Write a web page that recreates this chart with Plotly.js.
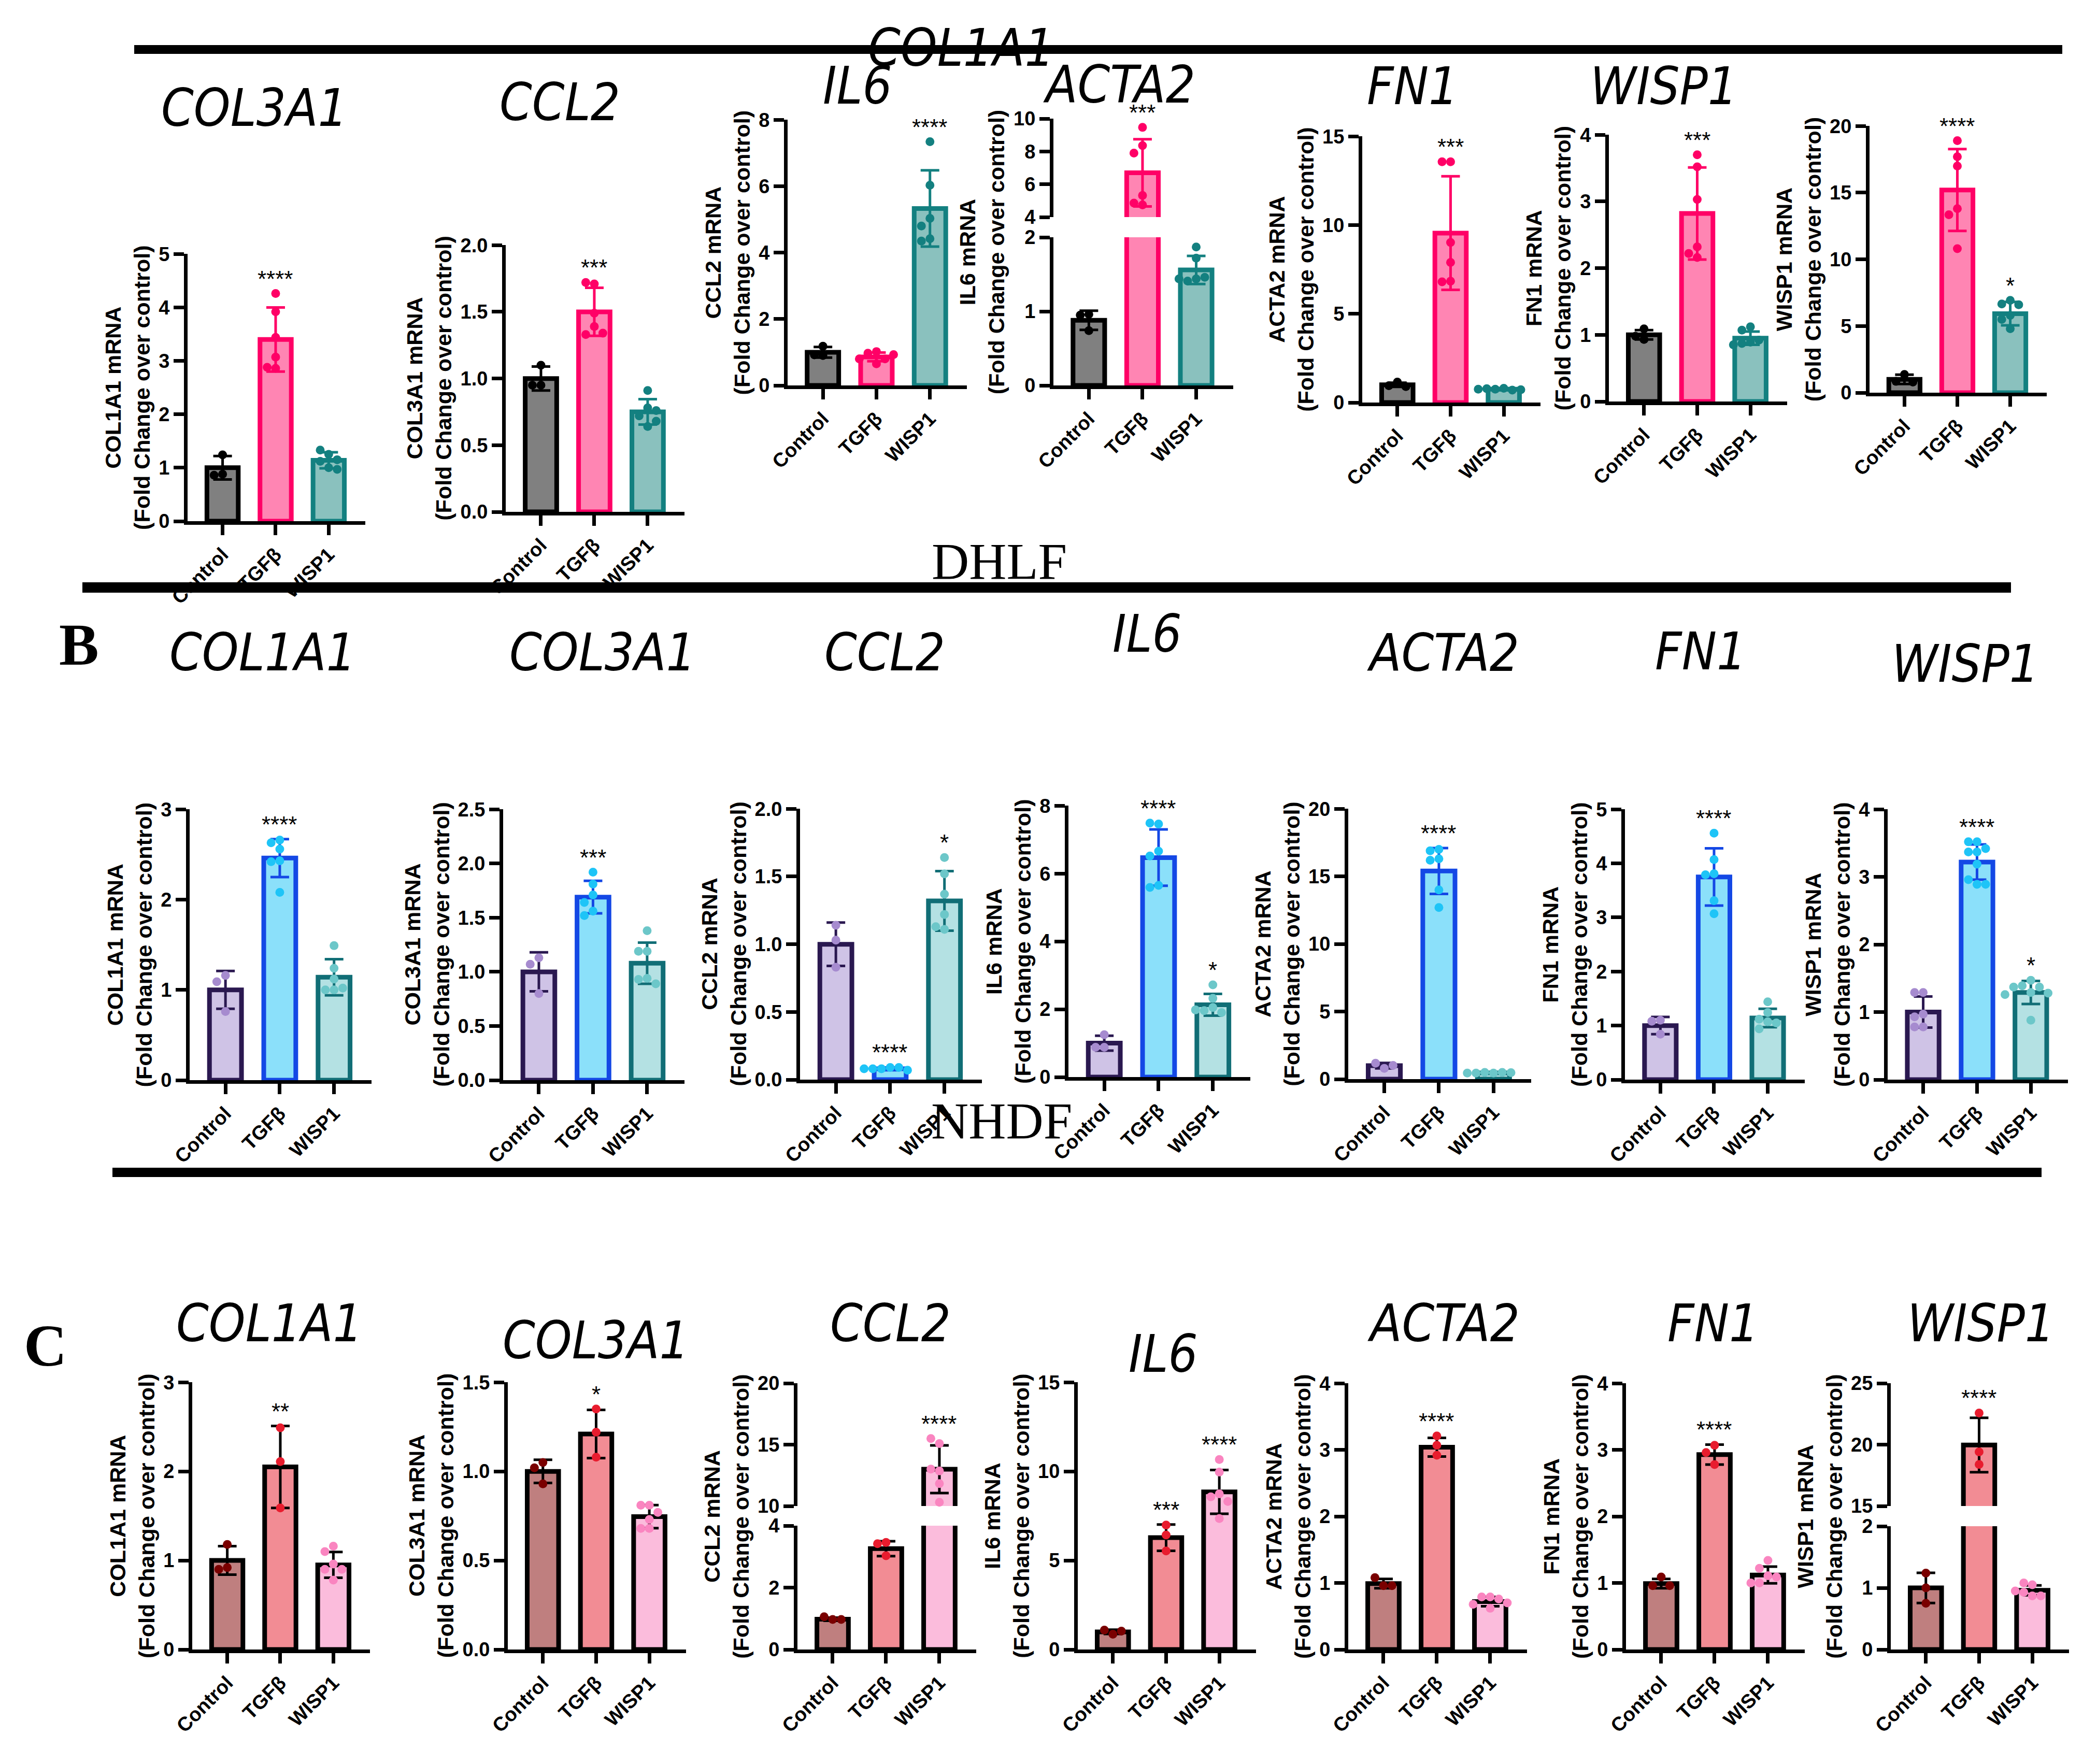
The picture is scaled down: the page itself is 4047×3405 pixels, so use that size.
<!DOCTYPE html>
<html><head><meta charset="utf-8">
<script src="https://cdn.plot.ly/plotly-3.0.1.min.js"></script>
<style>html,body{margin:0;padding:0;background:#fff}</style>
</head><body><div id="chart" style="width:4047px;height:3405px"></div>
<script>
// ---------------- DATA ----------------
const groups = ["Control", "TGFβ", "WISP1"];

// Row A (DHLF)
const A_COL1A1_mean = [1.0, 3.40, 1.14];
const A_COL1A1_sd = [0.22, 0.60, 0.15];
const A_COL1A1_pts = [[1.24, 0.88, 0.86], [4.26, 3.92, 3.44, 3.07, 2.86, 2.88], [1.25, 1.33, 1.12, 1.15, 1.00, 0.97]];
const A_COL1A1_sig = ["", "****", ""];

const A_COL3A1_mean = [1.0, 1.50, 0.75];
const A_COL3A1_sd = [0.09, 0.18, 0.095];
const A_COL3A1_pts = [[1.10, 0.95, 0.95], [1.71, 1.72, 1.49, 1.39, 1.33, 1.34], [0.91, 0.78, 0.72, 0.76, 0.64, 0.68]];
const A_COL3A1_sig = ["", "***", ""];

const A_CCL2_mean = [1.0, 0.86, 5.33];
const A_CCL2_sd = [0.16, 0.13, 1.15];
const A_CCL2_pts = [[1.18, 0.90, 0.92], [1.02, 0.97, 0.80, 0.65, 0.80, 0.93], [7.34, 6.03, 5.03, 4.80, 4.42, 4.35]];
const A_CCL2_sig = ["", "", "****"];

const A_IL6_mean = [0.88, 6.70, 1.56];
const A_IL6_sd = [0.13, 2.05, 0.19];
const A_IL6_pts = [[0.96, 0.95, 0.74], [9.47, 8.36, 7.90, 5.32, 4.74, 4.85], [1.87, 1.72, 1.44, 1.41, 1.46, 1.44]];
const A_IL6_sig = ["", "***", ""];

const A_ACTA2_mean = [1.0, 9.55, 0.75];
const A_ACTA2_sd = [0.12, 3.2, 0.06];
const A_ACTA2_pts = [[1.15, 0.95, 0.90], [13.57, 13.57, 9.02, 7.90, 6.84, 6.80], [0.80, 0.75, 0.70, 0.78, 0.72, 0.75]];
const A_ACTA2_sig = ["", "***", ""];

const A_FN1_mean = [1.0, 2.82, 0.95];
const A_FN1_sd = [0.07, 0.69, 0.10];
const A_FN1_pts = [[1.09, 0.93, 0.98], [3.70, 3.52, 3.03, 2.32, 2.22, 2.16], [1.12, 1.07, 0.89, 0.87, 0.92, 0.85]];
const A_FN1_sig = ["", "***", ""];

const A_WISP1_mean = [1.0, 15.2, 5.93];
const A_WISP1_sd = [0.35, 3.07, 0.88];
const A_WISP1_pts = [[1.37, 0.85, 0.80], [18.9, 17.7, 17.0, 13.8, 13.35, 10.8], [6.93, 6.65, 6.60, 5.80, 5.50, 4.80]];
const A_WISP1_sig = ["", "****", "*"];

// Row B
const B_COL1A1_mean = [1.0, 2.46, 1.14];
const B_COL1A1_sd = [0.21, 0.21, 0.20];
const B_COL1A1_pts = [[1.16, 1.09, 0.76], [2.66, 2.63, 2.56, 2.43, 2.42, 2.08], [1.49, 1.24, 1.12, 1.00, 1.00, 1.02]];
const B_COL1A1_sig = ["", "****", ""];

const B_COL3A1_mean = [1.0, 1.69, 1.08];
const B_COL3A1_sd = [0.18, 0.15, 0.19];
const B_COL3A1_pts = [[1.13, 1.07, 0.80], [1.92, 1.81, 1.71, 1.64, 1.56, 1.52], [1.38, 1.19, 1.19, 0.94, 0.93, 0.89]];
const B_COL3A1_sig = ["", "***", ""];

const B_CCL2_mean = [1.0, 0.08, 1.32];
const B_CCL2_sd = [0.16, 0.01, 0.22];
const B_CCL2_pts = [[1.14, 1.03, 0.83], [0.09, 0.08, 0.09, 0.08, 0.07, 0.08], [1.64, 1.52, 1.37, 1.22, 1.11, 1.13]];
const B_CCL2_sig = ["", "****", "*"];

const B_IL6_mean = [1.0, 6.47, 2.13];
const B_IL6_sd = [0.22, 0.83, 0.32];
const B_IL6_pts = [[1.25, 0.88, 0.88], [7.46, 7.49, 6.66, 6.52, 5.65, 5.59], [2.72, 2.32, 2.05, 1.96, 1.90, 1.98]];
const B_IL6_sig = ["", "****", "*"];

const B_ACTA2_mean = [1.0, 15.4, 0.46];
const B_ACTA2_sd = [0.2, 1.7, 0.03];
const B_ACTA2_pts = [[0.80, 1.18, 1.02], [16.3, 16.9, 17.0, 16.2, 14.0, 12.7], [0.45, 0.50, 0.50, 0.45, 0.48, 0.45]];
const B_ACTA2_sig = ["", "****", ""];

const B_FN1_mean = [1.0, 3.75, 1.14];
const B_FN1_sd = [0.16, 0.53, 0.17];
const B_FN1_pts = [[1.10, 1.08, 0.84], [4.56, 4.07, 3.81, 3.79, 3.31, 3.07], [1.44, 1.24, 1.12, 1.07, 0.94, 1.05]];
const B_FN1_sig = ["", "****", ""];

const B_WISP1_mean = [1.0, 3.22, 1.29];
const B_WISP1_sd = [0.23, 0.26, 0.17];
const B_WISP1_pts = [[1.29, 1.29, 0.97, 0.93, 0.78, 0.78], [3.52, 3.52, 3.42, 3.37, 3.37, 3.19, 2.89, 2.96, 2.89], [1.47, 1.39, 1.37, 1.37, 1.29, 1.28, 1.26, 0.88]];
const B_WISP1_sig = ["", "****", "*"];

// Row C
const C_COL1A1_mean = [1.0, 2.05, 0.95];
const C_COL1A1_sd = [0.16, 0.46, 0.145];
const C_COL1A1_pts = [[1.18, 0.92, 0.90], [2.49, 2.11, 1.59], [1.16, 1.10, 0.96, 0.90, 0.90, 0.78]];
const C_COL1A1_sig = ["", "**", ""];

const C_COL3A1_mean = [1.0, 1.21, 0.746];
const C_COL3A1_sd = [0.065, 0.135, 0.065];
const C_COL3A1_pts = [[1.05, 1.02, 0.93], [1.35, 1.22, 1.08], [0.81, 0.81, 0.77, 0.73, 0.68, 0.68]];
const C_COL3A1_sig = ["", "*", ""];

const C_CCL2_mean = [0.98, 3.26, 13.0];
const C_CCL2_sd = [0.05, 0.24, 1.94];
const C_CCL2_pts = [[0.97, 1.06, 0.97], [3.46, 3.42, 3.03], [15.09, 15.5, 12.86, 13.01, 11.83, 10.31]];
const C_CCL2_sig = ["", "", "****"];

const C_IL6_mean = [0.99, 6.28, 8.85];
const C_IL6_sd = [0.12, 0.74, 1.23];
const C_IL6_pts = [[0.86, 1.09, 1.03], [6.99, 6.43, 5.53], [10.67, 9.96, 8.74, 8.57, 8.31, 7.35]];
const C_IL6_sig = ["", "***", "****"];

const C_ACTA2_mean = [0.99, 3.04, 0.72];
const C_ACTA2_sd = [0.07, 0.14, 0.07];
const C_ACTA2_pts = [[0.96, 1.08, 0.96], [3.21, 3.07, 2.92], [0.79, 0.79, 0.76, 0.62, 0.68, 0.70]];
const C_ACTA2_sig = ["", "****", ""];

const C_FN1_mean = [0.99, 2.93, 1.12];
const C_FN1_sd = [0.07, 0.15, 0.125];
const C_FN1_pts = [[1.09, 0.96, 0.96], [3.07, 2.96, 2.78], [1.34, 1.22, 1.11, 1.09, 1.00, 1.00]];
const C_FN1_sig = ["", "****", ""];

const C_WISP1_mean = [1.0, 19.97, 0.96];
const C_WISP1_sd = [0.245, 2.22, 0.08];
const C_WISP1_pts = [[1.24, 1.00, 0.75], [22.58, 19.41, 18.39], [1.05, 1.08, 0.93, 0.87, 0.87, 0.95]];
const C_WISP1_sig = ["", "****", ""];

// text labels
const rowAGenes = ["COL3A1", "CCL2", "COL1A1", "IL6", "ACTA2", "FN1", "WISP1"];
const rowBGenes = ["COL1A1", "COL3A1", "CCL2", "IL6", "ACTA2", "FN1", "WISP1"];
const rowCGenes = ["COL1A1", "COL3A1", "CCL2", "IL6", "ACTA2", "FN1", "WISP1"];
const cellLabels = ["DHLF", "NHDF"];
const panelLetters = ["B", "C"];

// ---------------- STYLE / LAYOUT ----------------
const W = 4047, H = 3405;
const rowStyle = {
  A: {fill: ["#808080", "#FF85B3", "#8AC1BE"], line: ["#000000", "#FF0066", "#138080"], pt: ["#000000", "#FF0066", "#138080"]},
  B: {fill: ["#CFC3E6", "#8BE0FA", "#B4E1E3"], line: ["#2A1850", "#1448E5", "#116E76"], pt: ["#A68BCF", "#1EC4F7", "#6CC7C9"]},
  C: {fill: ["#BF7F7F", "#F28C94", "#FBBCDC"], line: ["#000000", "#000000", "#000000"], pt: ["#7A0000", "#E81C2E", "#FA85C0"]}
};

const panels = [
  {row:"A", gene:"COL1A1", mean:A_COL1A1_mean, sd:A_COL1A1_sd, pts:A_COL1A1_pts, sig:A_COL1A1_sig, ax:362, xe:705, segs:[{bot:1006, top:490, r:[0,5], d:1}]},
  {row:"A", gene:"COL3A1", mean:A_COL3A1_mean, sd:A_COL3A1_sd, pts:A_COL3A1_pts, sig:A_COL3A1_sig, ax:976, xe:1321, segs:[{bot:988, top:473, r:[0,2], d:0.5}]},
  {row:"A", gene:"CCL2", mean:A_CCL2_mean, sd:A_CCL2_sd, pts:A_CCL2_pts, sig:A_CCL2_sig, ax:1520, xe:1866, segs:[{bot:744, top:231, r:[0,8], d:2}]},
  {row:"A", gene:"IL6", mean:A_IL6_mean, sd:A_IL6_sd, pts:A_IL6_pts, sig:A_IL6_sig, ax:2033, xe:2380, segs:[{bot:744, top:458, r:[0,2], d:1},{bot:419, top:229, r:[4,10], d:2}]},
  {row:"A", gene:"ACTA2", mean:A_ACTA2_mean, sd:A_ACTA2_sd, pts:A_ACTA2_pts, sig:A_ACTA2_sig, ax:2629, xe:2973, segs:[{bot:777, top:263, r:[0,15], d:5}]},
  {row:"A", gene:"FN1", mean:A_FN1_mean, sd:A_FN1_sd, pts:A_FN1_pts, sig:A_FN1_sig, ax:3105, xe:3449, segs:[{bot:775, top:260, r:[0,4], d:1}]},
  {row:"A", gene:"WISP1", mean:A_WISP1_mean, sd:A_WISP1_sd, pts:A_WISP1_pts, sig:A_WISP1_sig, ax:3608, xe:3950, segs:[{bot:758, top:243, r:[0,20], d:5}]},

  {row:"B", gene:"COL1A1", mean:B_COL1A1_mean, sd:B_COL1A1_sd, pts:B_COL1A1_pts, sig:B_COL1A1_sig, ax:366, xe:717, segs:[{bot:2085, top:1562, r:[0,3], d:1}]},
  {row:"B", gene:"COL3A1", mean:B_COL3A1_mean, sd:B_COL3A1_sd, pts:B_COL3A1_pts, sig:B_COL3A1_sig, ax:971, xe:1321, segs:[{bot:2085, top:1562, r:[0,2.5], d:0.5}]},
  {row:"B", gene:"CCL2", mean:B_CCL2_mean, sd:B_CCL2_sd, pts:B_CCL2_pts, sig:B_CCL2_sig, ax:1544, xe:1895, segs:[{bot:2084, top:1561, r:[0,2], d:0.5}]},
  {row:"B", gene:"IL6", mean:B_IL6_mean, sd:B_IL6_sd, pts:B_IL6_pts, sig:B_IL6_sig, ax:2062, xe:2413, segs:[{bot:2079, top:1555, r:[0,8], d:2}]},
  {row:"B", gene:"ACTA2", mean:B_ACTA2_mean, sd:B_ACTA2_sd, pts:B_ACTA2_pts, sig:B_ACTA2_sig, ax:2602, xe:2955, segs:[{bot:2083, top:1561, r:[0,20], d:5}]},
  {row:"B", gene:"FN1", mean:B_FN1_mean, sd:B_FN1_sd, pts:B_FN1_pts, sig:B_FN1_sig, ax:3136, xe:3483, segs:[{bot:2084, top:1562, r:[0,5], d:1}]},
  {row:"B", gene:"WISP1", mean:B_WISP1_mean, sd:B_WISP1_sd, pts:B_WISP1_pts, sig:B_WISP1_sig, ax:3643, xe:3991, segs:[{bot:2084, top:1562, r:[0,4], d:1}]},

  {row:"C", gene:"COL1A1", mean:C_COL1A1_mean, sd:C_COL1A1_sd, pts:C_COL1A1_pts, sig:C_COL1A1_sig, ax:371, xe:714, segs:[{bot:3184, top:2668, r:[0,3], d:1}]},
  {row:"C", gene:"COL3A1", mean:C_COL3A1_mean, sd:C_COL3A1_sd, pts:C_COL3A1_pts, sig:C_COL3A1_sig, ax:980, xe:1324, segs:[{bot:3184, top:2668, r:[0,1.5], d:0.5}]},
  {row:"C", gene:"CCL2", mean:C_CCL2_mean, sd:C_CCL2_sd, pts:C_CCL2_pts, sig:C_CCL2_sig, ax:1539, xe:1884, segs:[{bot:3184, top:2945, r:[0,4], d:2},{bot:2907, top:2670, r:[10,20], d:5}]},
  {row:"C", gene:"IL6", mean:C_IL6_mean, sd:C_IL6_sd, pts:C_IL6_pts, sig:C_IL6_sig, ax:2080, xe:2424, segs:[{bot:3184, top:2668, r:[0,15], d:5}]},
  {row:"C", gene:"ACTA2", mean:C_ACTA2_mean, sd:C_ACTA2_sd, pts:C_ACTA2_pts, sig:C_ACTA2_sig, ax:2602, xe:2947, segs:[{bot:3184, top:2670, r:[0,4], d:1}]},
  {row:"C", gene:"FN1", mean:C_FN1_mean, sd:C_FN1_sd, pts:C_FN1_pts, sig:C_FN1_sig, ax:3138, xe:3483, segs:[{bot:3184, top:2670, r:[0,4], d:1}]},
  {row:"C", gene:"WISP1", mean:C_WISP1_mean, sd:C_WISP1_sd, pts:C_WISP1_pts, sig:C_WISP1_sig, ax:3649, xe:3993, segs:[{bot:3184, top:2946, r:[0,2], d:1},{bot:2907, top:2670, r:[15,25], d:5}]}
];

const titlePos = {
  A: [[491,209],[1080,198],[1855,92],[1655,165],[2160,163],[2726,167],[3211,167]],
  B: [[507,1259],[1163,1259],[1707,1259],[2214,1224],[2785,1261],[3282,1257],[3793,1281]],
  C: [[520,2554],[1150,2587],[1718,2554],[2245,2613],[2786,2554],[3306,2554],[3823,2554]]
};

const AXIS_LW = 7, BAR_LW = 9, MARK = 17;
const TICKFONT = {family: "Liberation Sans, Arial, sans-serif", size: 38, color: "#000", weight: "bold"};
const traces = [];
const layout = {
  width: W, height: H, margin: {l:0, r:0, t:0, b:0},
  paper_bgcolor: "#ffffff", plot_bgcolor: "rgba(0,0,0,0)",
  showlegend: false, font: {family: "Liberation Sans, Arial, sans-serif", color: "#000"},
  shapes: [], annotations: []
};

const px = v => v / W, py = v => 1 - v / H;
const ref = (p, n) => n === 1 ? p : p + n;
const key = (p, n) => n === 1 ? p + "axis" : p + "axis" + n;
let nx = 0, ny = 0;

function fmtTick(v, d) { return (d % 1 !== 0) ? v.toFixed(1) : String(v); }
function labelWidth(s) { let w = 0; for (const c of s) w += (c === ".") ? 10.6 : 21.1; return w; }

panels.forEach(p => {
  const st = rowStyle[p.row];
  nx++; const xi = nx;
  const segs = p.segs.map(s => { ny++; return Object.assign({yi: ny}, s); });
  const segFor = v => (segs.length > 1 && v > segs[0].r[1]) ? segs[1] : segs[0];

  layout[key("x", xi)] = {
    domain: [px(p.ax), px(p.xe)], anchor: ref("y", segs[0].yi), range: [-0.66, 2.69],
    tickmode: "array", tickvals: [0, 1, 2], ticktext: groups, tickangle: -45,
    showline: true, linewidth: AXIS_LW, linecolor: "#000", ticks: "outside", ticklen: 20,
    tickwidth: AXIS_LW, tickcolor: "#000", tickfont: TICKFONT, showgrid: false, zeroline: false, fixedrange: true
  };
  let maxLab = 0;
  segs.forEach(s => {
    const vals = [];
    for (let v = s.r[0]; v <= s.r[1] + 1e-9; v += s.d) vals.push(+v.toFixed(4));
    const txt = vals.map(v => fmtTick(v, s.d));
    txt.forEach(t => { maxLab = Math.max(maxLab, labelWidth(t)); });
    layout[key("y", s.yi)] = {
      domain: [py(s.bot), py(s.top)], anchor: ref("x", xi), range: [s.r[0], s.r[1] + (s.r[1]-s.r[0]) * 0.0005],
      tickmode: "array", tickvals: vals, ticktext: txt,
      showline: true, linewidth: AXIS_LW, linecolor: "#000", ticks: "outside", ticklen: 20,
      tickwidth: AXIS_LW, tickcolor: "#000", tickfont: TICKFONT, showgrid: false, zeroline: false, fixedrange: true
    };
    s.ppu = (s.bot - s.top) / (s.r[1] - s.r[0]);
  });

  segs.forEach(s => {
    traces.push({
      type: "bar", x: [0, 1, 2], y: p.mean, width: 0.59, xaxis: ref("x", xi), yaxis: ref("y", s.yi),
      marker: {color: st.fill, line: {color: st.line, width: BAR_LW}}, hoverinfo: "skip"
    });
  });

  [0, 1, 2].forEach(g => {
    const s = segFor(p.mean[g]);
    traces.push({
      type: "scatter", mode: "markers", x: [g], y: [p.mean[g]], xaxis: ref("x", xi), yaxis: ref("y", s.yi),
      marker: {size: 2, opacity: 0}, hoverinfo: "skip", cliponaxis: false,
      error_y: {type: "data", array: [p.sd[g]], visible: true, color: st.line[g], thickness: 5, width: 18}
    });
  });

  [0, 1, 2].forEach(g => {
    const placed = [];
    const bySeg = {};
    p.pts[g].forEach(v => {
      const s = segFor(v);
      const slots = [0, -1, 1, -2, 2, -3, 3];
      let chosen = 0;
      for (const sl of slots) {
        const clash = placed.some(q => q.sl === sl && q.s === s && Math.abs(q.v - v) * s.ppu < 17);
        if (!clash) { chosen = sl; break; }
      }
      placed.push({v, sl: chosen, s});
      const k = s.yi;
      if (!bySeg[k]) bySeg[k] = {x: [], y: [], s};
      bySeg[k].x.push(g + chosen * 0.16);
      bySeg[k].y.push(v);
    });
    Object.values(bySeg).forEach(b => {
      traces.push({
        type: "scatter", mode: "markers", x: b.x, y: b.y, xaxis: ref("x", xi), yaxis: ref("y", b.s.yi),
        marker: {size: MARK, color: st.pt[g], line: {width: 0}}, hoverinfo: "skip", cliponaxis: false
      });
    });
  });

  [0, 1, 2].forEach(g => {
    if (!p.sig[g]) return;
    const top = Math.max(Math.max(...p.pts[g]), p.mean[g] + p.sd[g]);
    const s = segFor(top);
    layout.annotations.push({
      xref: ref("x", xi), yref: ref("y", s.yi), x: g, y: top, text: p.sig[g], showarrow: false,
      xanchor: "center", yanchor: "bottom", yshift: 2,
      font: {family: "Liberation Sans, Arial, sans-serif", size: 44, color: "#000"}
    });
  });

  const yb = segs[0].bot, yt = segs[segs.length - 1].top;
  layout.annotations.push({
    xref: "paper", yref: "paper", x: px(p.ax - 95 - maxLab), y: py((yb + yt) / 2),
    text: p.gene + " mRNA<br>(Fold Change over control)", textangle: -90, showarrow: false,
    xanchor: "center", yanchor: "middle",
    font: {family: "Liberation Sans, Arial, sans-serif", size: 43, color: "#000", weight: "bold"}
  });
});

const geneFont = {family: "DejaVu Sans Condensed, DejaVu Sans, sans-serif", size: 100, color: "#000", style: "italic"};
[["A", rowAGenes], ["B", rowBGenes], ["C", rowCGenes]].forEach(([r, names]) => {
  names.forEach((n, i) => {
    const [cx, cy] = titlePos[r][i];
    layout.annotations.push({xref: "paper", yref: "paper", x: px(cx), y: py(cy), text: n, showarrow: false,
      xanchor: "center", yanchor: "middle", font: geneFont});
  });
});

[[1928, 1083], [1933, 2163]].forEach((pos, i) => {
  layout.annotations.push({xref: "paper", yref: "paper", x: px(pos[0]), y: py(pos[1]), text: cellLabels[i], showarrow: false,
    xanchor: "center", yanchor: "middle", font: {family: "Liberation Serif, Times New Roman, serif", size: 100, color: "#000"}});
});
[[152, 1245], [87, 2597]].forEach((pos, i) => {
  layout.annotations.push({xref: "paper", yref: "paper", x: px(pos[0]), y: py(pos[1]), text: panelLetters[i], showarrow: false,
    xanchor: "center", yanchor: "middle", font: {family: "Liberation Serif, Times New Roman, serif", size: 115, color: "#000", weight: "bold"}});
});

[[259, 3980, 87, 104], [159, 3881, 1124, 1144], [217, 3940, 2254, 2272]].forEach(b => {
  layout.shapes.push({type: "rect", xref: "paper", yref: "paper", x0: px(b[0]), x1: px(b[1]), y0: py(b[3]), y1: py(b[2]),
    fillcolor: "#000", line: {width: 0}, layer: "above"});
});

Plotly.newPlot("chart", traces, layout, {staticPlot: true, displayModeBar: false});
</script></body></html>
